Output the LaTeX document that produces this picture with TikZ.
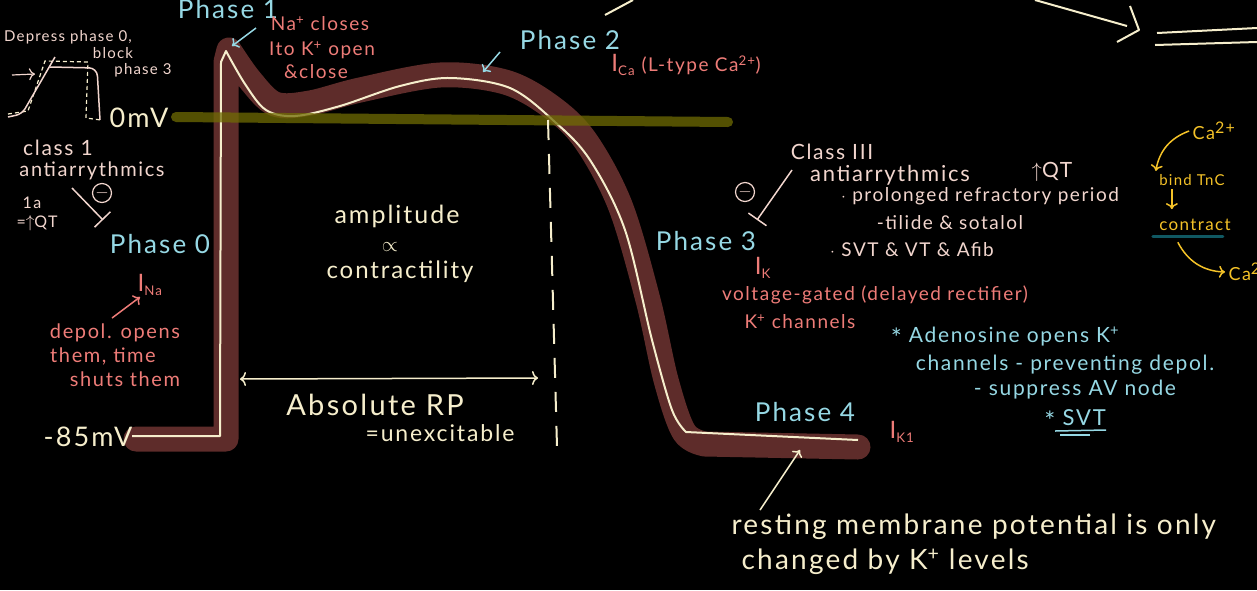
\documentclass[tikz,border=0pt]{standalone}
\usepackage{fontspec}
\setmainfont{Lato}[LetterSpace=8]
\usepackage{amsmath, amssymb}
\usepackage{xcolor}
\usetikzlibrary{arrows.meta}

\definecolor{bandbrown}{RGB}{94,44,42}
\definecolor{cream}{RGB}{246,238,204}
\definecolor{skyblue}{RGB}{150,216,228}
\definecolor{salmon}{RGB}{238,124,120}
\definecolor{blush}{RGB}{242,214,206}
\definecolor{olivebar}{RGB}{112,108,4}
\definecolor{gold}{RGB}{244,194,40}
\definecolor{tealbar}{RGB}{16,88,98}

\newcommand\handsz[1]{\fontsize{#1}{#1}\selectfont}
\newcommand\handstar{\raisebox{-0.2em}{\handsz{26}*}}

\begin{document}
\begin{tikzpicture}[x=1pt, y=-1pt,
  phase/.style={text=skyblue, font=\handsz{26}},
  chan/.style={text=salmon, font=\handsz{19}},
  drug/.style={text=blush, font=\handsz{19}},
  plain/.style={text=cream, font=\handsz{26}},
  adeno/.style={text=skyblue, font=\handsz{21}},
  calc/.style={text=gold, font=\handsz{15}},
  minus/.style={draw=blush, circle, line width=1.2pt, inner sep=0pt, minimum size=19pt, text=blush, font=\handsz{16}},
  inhib/.style={draw=blush, line width=1.5pt, -{Bar[width=22pt]}},
  pointer/.style={line width=1.5pt, -{To[length=6pt, width=12pt]}}
]
\def\W{1257}
\def\H{590}

% background and page size
\fill[black] (0,0) rectangle (\W,\H);
\useasboundingbox (0,0) rectangle (\W,\H);

% thick band behind the action potential
\draw[bandbrown, line width=25pt, line join=round, line cap=round]
  (136,439) -- (226,439) -- (226,62)
  -- plot[smooth, tension=0.55] coordinates {(229,50) (250,80) (275,104) (310,103) (360,90) (440,75) (505,82) (550,106) (585,140) (620,205) (648,300) (666,380) (684,432) (705,444)}
  -- (858,447);

% action potential trace
\draw[cream, line width=2pt, line join=round]
  (132,436) -- (220,436) -- (221,62)
  -- plot[smooth, tension=0.55] coordinates {(226,51) (245,84) (266,110) (295,116) (340,106) (400,86) (450,78) (510,88) (555,122) (590,160) (625,230) (652,340) (672,410) (686,432)}
  -- (858,440);

% 0 mV line
\node[plain, font=\handsz{27}] (zeromv) at (139,118) {0mV};
\coordinate (zeroend) at (728,122);
\draw[olivebar, opacity=0.75, line width=10pt, line cap=round] (176,117) -- (zeroend);

% end of absolute refractory period
\draw[cream, line width=2pt, dash pattern=on 20pt off 14pt] (548,120) -- (557,447);
\node[plain, font=\handsz{27}] (minus85) at (88,437) {-85mV};

% phase labels
\node[phase] (phone) at (228,9) {Phase 1};
\node[phase] (phtwo) at (570,40) {Phase 2};
\node[phase] (phzero) at (160,244) {Phase 0};
\node[phase] (phthree) at (706,241) {Phase 3};
\node[phase] (phfour) at (805,412) {Phase 4};
\coordinate (ponetip) at (232,46);
\coordinate (ponetail) at (256,28);
\coordinate (ptwotip) at (483,72);
\coordinate (ptwotail) at (500,52);
\draw[skyblue, pointer] (ponetail) -- (ponetip);
\draw[skyblue, pointer] (ptwotail) -- (ptwotip);

% currents
\node[chan] (naclose) at (320,24) {Na\textsuperscript{+} closes};
\node[chan] (itoopen) at (322,50) {Ito K\textsuperscript{+} open};
\node[chan] (itoclose) at (316,72) {\&close};
\node[chan] (ica) at (686,65) {{\handsz{24}I}\textsubscript{Ca} (L-type Ca\textsuperscript{2+})};
\node[chan] (ina) at (150,285) {{\handsz{24}I}\textsubscript{Na}};
\node[chan, font=\handsz{20}] (depol) at (115,333) {depol. opens};
\node[chan, font=\handsz{20}] (time) at (103,356) {them, time};
\node[chan, font=\handsz{20}] (shuts) at (125,379) {shuts them};
\coordinate (depoltail) at (112,318);
\coordinate (inatip) at (140,297);
\draw[salmon, pointer] (depoltail) -- (inatip);
\node[chan] (ik) at (763,268) {{\handsz{24}I}\textsubscript{K}};
\node[chan] (rectifier) at (875,295) {voltage-gated (delayed rectifier)};
\node[chan] (kchan) at (800,322) {K\textsuperscript{+} channels};
\node[chan] (ikone) at (902,432) {{\handsz{24}I}\textsubscript{K1}};

% small sketch, class 1
\node[drug, font=\handsz{15}] (depress) at (68,37) {Depress phase 0,};
\node[drug, font=\handsz{15}] (block) at (113,53) {block};
\node[drug, font=\handsz{15}] (blockthree) at (143,70) {phase 3};
\draw[cream, line width=1.2pt, dash pattern=on 4pt off 3pt]
  (8,114) -- (28,111) -- (45,61) -- (88,62) -- (86,118) -- (101,120);
\draw[blush, line width=1.5pt, rounded corners=6pt]
  (8,117) -- (22,114) -- (55,57);
\draw[blush, line width=1.5pt, rounded corners=8pt]
  (50,67) -- (97,68) -- (100,120);
\coordinate (skarrs) at (12,75);
\coordinate (skarre) at (35,74);
\draw[blush, pointer, line width=1.2pt] (skarrs) -- (skarre);

\node[drug, font=\handsz{21}] (classone) at (58,148) {class 1};
\node[drug, font=\handsz{20}] (antione) at (92,171) {antiarrythmics};
\node[drug, font=\handsz{16}] (onea) at (32,203) {1a};
\node[drug, font=\handsz{16}] (oneaqt) at (37,223) {=$\uparrow$QT};
\node[minus] (minusone) at (102,193) {$-$};
\coordinate (inhonea) at (72,188);
\coordinate (inhoneb) at (103,220);
\draw[inhib] (inhonea) -- (inhoneb);

% class III
\node[drug, font=\handsz{21}] (classthree) at (832,152) {Class III};
\node[drug, font=\handsz{22}] (antithree) at (890,175) {antiarrythmics};
\node[drug, font=\handsz{21}] (qt) at (1052,172) {$\uparrow$QT};
\node[drug] (prolong) at (980,196) {$\cdot$ prolonged refractory period};
\node[drug] (tilide) at (950,223) {-tilide \& sotalol};
\node[drug] (svtvt) at (912,250) {$\cdot$ SVT \& VT \& Afib};
\node[minus] (minusthree) at (745,192) {$-$};
\coordinate (inhthreea) at (792,170);
\coordinate (inhthreeb) at (757,220);
\draw[inhib] (inhthreea) -- (inhthreeb);

% middle notes
\node[plain, font=\handsz{25}] (amp) at (397,216) {amplitude};
\node[plain, font=\handsz{20}] (prop) at (390,247) {$\propto$};
\node[plain, font=\handsz{24}] (contr) at (400,272) {contractility};
\coordinate (arpleft) at (240,379);
\coordinate (arpright) at (538,378);
\draw[cream, line width=1.5pt, {To[length=6pt, width=14pt]}-{To[length=6pt, width=14pt]}] (arpleft) -- (arpright);
\node[plain, font=\handsz{29}] (absrp) at (375,405) {Absolute RP};
\node[plain, font=\handsz{23}] (unexc) at (440,433) {=unexcitable};

% adenosine
\node[adeno] (adeno) at (1005,337) {\handstar\ Adenosine opens K\textsuperscript{+}};
\node[adeno] (adenoch) at (1065,365) {channels - preventing depol.};
\node[adeno] (adenoav) at (1075,390) {- suppress AV node};
\node[adeno, font=\handsz{22}] (svt) at (1075,420) {\handstar\ SVT};
\draw[skyblue, line width=1.5pt] (1055,431) -- (1106,430);
\draw[skyblue, line width=1.2pt] (1060,435) -- (1090,435);

% resting potential
\node[plain, font=\handsz{28}, anchor=west] (rest) at (728,527) {resting membrane potential is only};
\node[plain, font=\handsz{28}, anchor=west] (restk) at (738,562) {changed by K\textsuperscript{+} levels};
\coordinate (restarr) at (800,450);
\coordinate (resttail) at (760,510);
\draw[cream, pointer] (resttail) -- (restarr);

% calcium cycle
\node[calc, font=\handsz{18}] (caone) at (1214,131) {Ca\textsuperscript{\handsz{16}2+}};
\node[calc] (tnc) at (1192,180) {bind TnC};
\node[calc, font=\handsz{17}] (contract) at (1195,225) {contract};
\node[calc, font=\handsz{18}, anchor=west] (catwo) at (1225,272) {Ca\textsuperscript{\handsz{16}2+}};
\draw[tealbar, line width=3pt, line cap=round] (contract.south west) ++(-3,2) -- ++(70,0);
\draw[gold, pointer, line width=1.5pt] (caone.west) to[bend right=30] (tnc.north west);
\draw[gold, pointer, line width=1.5pt] (tnc.south west) ++(16,0) -- ++(0,20);
\draw[gold, pointer, line width=1.5pt] (contract.south west) ++(22,8) to[bend right=30] (catwo.west);

% top strokes
\draw[cream, line width=2pt] (605,15) -- (633,0);
\draw[cream, line width=2pt] (1035,0) -- (1127,26);
\draw[cream, line width=2pt, line join=round] (1130,6) -- (1139,30) -- (1117,42);
\draw[cream, line width=2pt] (1157,33) -- (1257,28);
\draw[cream, line width=2pt] (1155,45) -- (1257,42);
\end{tikzpicture}
\end{document}
